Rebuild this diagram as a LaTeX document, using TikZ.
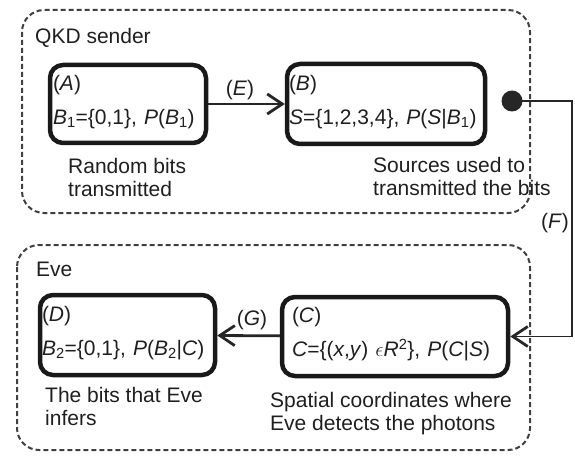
\documentclass[tikz,border=0pt]{standalone}
\usepackage{fontspec}
\setmainfont{Liberation Sans}
\usetikzlibrary{arrows.meta}

\begin{document}
\begin{tikzpicture}[x=1pt,y=-1pt,
        group/.style={draw=black!75,line width=2,dash pattern=on 5 off 3,rounded corners=22},
        varbox/.style={draw=black!90,line width=4.5,rounded corners=13,align=left,inner ysep=0},
        caption/.style={anchor=north west,align=left,inner sep=0},
        flow/.style={draw=black!85,line width=2.8,-{Straight Barb[length=15,width=20,line width=2.8]}}]
        \tikzstyle{every node}+=[font=\fontsize{21}{23}\selectfont,text=black!88]
        \useasboundingbox (0,0) rectangle (575,457);
        \draw [group] (22,10) rectangle (530,213);
        \draw [group] (17,245) rectangle (530,450);
        \node [caption] (qkd) at (35,28) {QKD sender};
        \node [caption] (eve) at (36,262) {Eve};
        \node [varbox,inner xsep=3,minimum height=78,text width=150] (A) at (128,104)
            {(\textit{A})\\[11pt]\textit{B}\textsubscript{1}=\{0,1\},~\textit{P}(\textit{B}\textsubscript{1})\rule[-9pt]{0pt}{0pt}};
        \node [varbox,inner xsep=2,minimum height=80,text width=194] (B) at (386,104)
            {(\textit{B})\\[11pt]\textit{S}=\{1,2,3,4\},~\textit{P}(\textit{S}|\textit{B}\textsubscript{1})\rule[-9pt]{0pt}{0pt}};
        \node [varbox,inner xsep=10,minimum height=79,text width=206] (C) at (395,336.5)
            {(\textit{C})\\[11pt]\textit{C}=\{(\textit{x},\textit{y})~$\epsilon$\textit{R}\textsuperscript{2}\},~\textit{P}(\textit{C}|\textit{S})\rule[-9pt]{0pt}{0pt}};
        \node [varbox,inner xsep=2,minimum height=80,text width=171] (D) at (127.5,335)
            {(\textit{D})\\[11pt]\textit{B}\textsubscript{2}=\{0,1\},~\textit{P}(\textit{B}\textsubscript{2}|\textit{C})\rule[-9pt]{0pt}{0pt}};
        \node [caption] (capA) at (68,158) {Random bits\\transmitted};
        \node [caption] (capB) at (373,157) {Sources used to\\transmitted the bits};
        \node [caption] (capC) at (270,392) {Spatial coordinates where\\Eve detects the photons};
        \node [caption] (capD) at (45,387) {The bits that Eve\\infers};
        \node [circle,fill=black!85,minimum size=21,inner sep=0] (dot) at (512,101) {};
        \coordinate (turn) at (572,101);
        \draw [flow] (A) -- (B);
        \draw [flow,line width=1.8] (dot.center) -- (turn) |- (C.east);
        \draw [flow] (C) -- (D);
        \node (labE) at (240,90) {(\textit{E})};
        \node (labF) at (555,223) {(\textit{F})};
        \node (labG) at (252,320) {(\textit{G})};
\end{tikzpicture}
\end{document}
